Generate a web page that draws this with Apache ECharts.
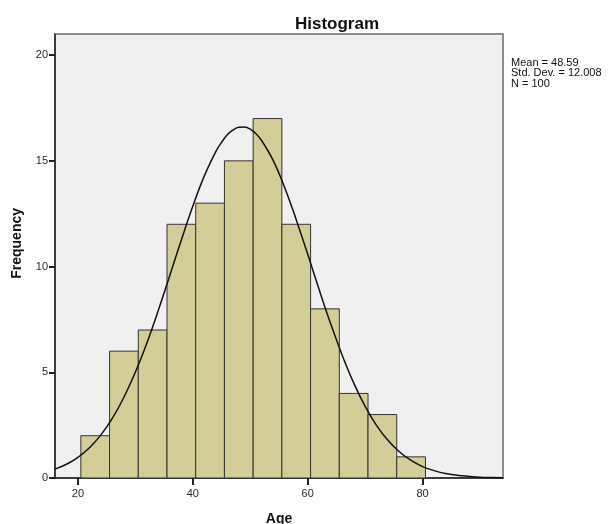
<!DOCTYPE html>
<html>
<head>
<meta charset="utf-8">
<script src="https://cdn.jsdelivr.net/npm/echarts@6/dist/echarts.min.js"></script>
<style>
html,body{margin:0;padding:0;background:#fff;overflow:hidden;}
#c{width:611px;height:524px;}
</style>
</head>
<body>
<div id="c"></div>
<script>
// Histogram bins (Age), width 5
var binStarts = [20.5, 25.5, 30.5, 35.5, 40.5, 45.5, 50.5, 55.5, 60.5, 65.5, 70.5, 75.5];
var binEnds   = [25.5, 30.5, 35.5, 40.5, 45.5, 50.5, 55.5, 60.5, 65.5, 70.5, 75.5, 80.5];
var counts    = [2, 6, 7, 12, 13, 15, 17, 12, 8, 4, 3, 1];

// Normal curve
var curveX = [16, 18, 20, 22, 24, 26, 28, 30, 32, 34, 36, 38, 40, 42, 44, 45, 46, 47, 48, 49, 50, 51, 52, 54, 56, 58, 60, 62, 64, 66, 68, 70, 72, 74, 76, 78, 80, 82, 84, 86, 88, 90, 92, 94];
var curveY = [0.42, 0.65, 0.98, 1.43, 2.04, 2.83, 3.82, 5.01, 6.39, 7.94, 9.59, 11.26, 12.86, 14.29, 15.44, 15.88, 16.23, 16.46, 16.59, 16.60, 16.50, 16.28, 15.95, 15.01, 13.73, 12.22, 10.58, 8.90, 7.29, 5.81, 4.50, 3.39, 2.48, 1.77, 1.23, 0.83, 0.54, 0.35, 0.21, 0.13, 0.08, 0.04, 0.02, 0.01];

var xTicks = [20, 40, 60, 80];
var yTicks = [0, 5, 10, 15, 20];
var statsLines = ['Mean = 48.59', 'Std. Dev. = 12.008', 'N = 100'];

var barData = binStarts.map(function (s, i) { return [s, binEnds[i], counts[i]]; });
var curveData = curveX.map(function (x, i) { return [x, curveY[i]]; });

var chart = echarts.init(document.getElementById('c'), null, {renderer: 'canvas'});
chart.setOption({
  animation: false,
  backgroundColor: '#ffffff',
  textStyle: {fontFamily: 'Liberation Sans, Arial, sans-serif'},
  title: {
    text: 'Histogram',
    left: 332, top: 11, textAlign: 'center',
    textStyle: {fontSize: 17, fontWeight: 'bold', color: '#111', fontFamily: 'Liberation Sans, Arial, sans-serif'}
  },
  grid: {
    left: 55, top: 34, right: 108, bottom: 46,
    containLabel: false, outerBoundsMode: 'none',
    show: true, backgroundColor: '#f0f0f0', borderColor: '#6a6a6a', borderWidth: 1.5
  },
  xAxis: {
    type: 'value', min: 16, max: 94,
    splitLine: {show: false},
    axisLine: {show: true, lineStyle: {color: '#222', width: 1.5}},
    axisTick: {show: true, length: 7, customValues: xTicks, lineStyle: {color: '#222', width: 2}},
    axisLabel: {customValues: xTicks, color: '#2a2a2a', fontSize: 11, margin: 10, showMinLabel: true, showMaxLabel: true},
    name: 'Age', nameLocation: 'middle', nameGap: 34,
    nameTextStyle: {fontSize: 14, fontWeight: 'bold', color: '#111'}
  },
  yAxis: {
    type: 'value', min: 0, max: 21,
    splitLine: {show: false},
    axisLine: {show: true, lineStyle: {color: '#222', width: 1.5}},
    axisTick: {show: true, length: 6, customValues: yTicks, lineStyle: {color: '#222', width: 2}},
    axisLabel: {customValues: yTicks, color: '#2a2a2a', fontSize: 11, margin: 7}
  },
  graphic: [
    {
      type: 'text', left: 10, top: 208, rotation: Math.PI / 2,
      style: {text: 'Frequency', fontSize: 14, fontWeight: 'bold', fill: '#111', fontFamily: 'Liberation Sans, Arial, sans-serif'}
    },
    {
      type: 'text', left: 511, top: 57,
      style: {text: statsLines.join('\n'), fontSize: 11, lineHeight: 10.7, fill: '#111', fontFamily: 'Liberation Sans, Arial, sans-serif'}
    }
  ],
  series: [
    {
      type: 'custom',
      data: barData,
      encode: {x: [0, 1], y: 2},
      renderItem: function (params, api) {
        var p0 = api.coord([api.value(0), 0]);
        var p1 = api.coord([api.value(1), api.value(2)]);
        return {
          type: 'rect',
          shape: {x: p0[0], y: p1[1], width: p1[0] - p0[0], height: p0[1] - p1[1]},
          style: {fill: '#d3ce97', stroke: '#333', lineWidth: 1}
        };
      },
      z: 2
    },
    {
      type: 'line',
      data: curveData,
      smooth: 0.4,
      showSymbol: false,
      lineStyle: {color: '#111', width: 1.5},
      z: 3
    }
  ]
});
</script>
</body>
</html>
